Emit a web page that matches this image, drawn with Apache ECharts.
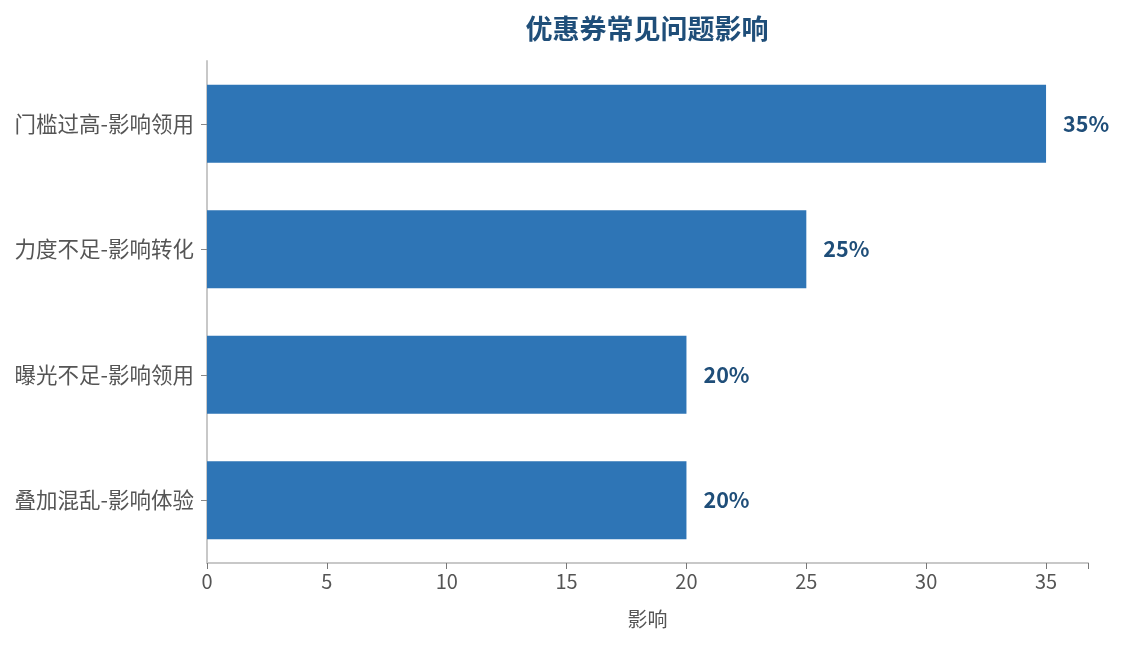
<!DOCTYPE html>
<html><head><meta charset="utf-8">
<script src="https://cdn.jsdelivr.net/npm/echarts@6/dist/echarts.min.js"></script>
<style>html,body{margin:0;padding:0;background:#fff}#c{width:1125px;height:645px}</style>
</head><body><div id="c"></div>
<script>
const categories = ['门槛过高-影响领用','力度不足-影响转化','曝光不足-影响领用','叠加混乱-影响体验'];
const values = [35, 25, 20, 20];
const axisMax = 36.75;
const xAxisName = '影响';
const titleText = '优惠券常见问题影响';

const chart = echarts.init(document.getElementById('c'));
const font = '"Noto Sans CJK SC", "Noto Sans", sans-serif';
chart.setOption({
  animation: false,
  textStyle: {fontFamily: font},
  title: {text: titleText, left: 642, top: 10, textAlign: 'center',
    textStyle: {fontSize: 27, fontWeight: 'bold', color: '#1f4e79', fontFamily: font}},
  grid: {left: 207, right: 37, top: 61, bottom: 82},
  xAxis: {type: 'value', min: 0, max: axisMax, interval: 5,
    name: xAxisName, nameLocation: 'middle', nameGap: 46,
    nameTextStyle: {fontSize: 20, color: '#555'},
    axisLine: {show: true, lineStyle: {color: '#c8c8c8', width: 2}},
    axisTick: {show: true, length: 6, lineStyle: {color: '#777'}},
    axisLabel: {fontSize: 20, color: '#555', margin: 8,
      formatter: v => (v % 5 === 0 ? String(v) : '')},
    splitLine: {show: false}},
  yAxis: {type: 'category', data: categories, inverse: true,
    axisLine: {show: true, lineStyle: {color: '#c8c8c8', width: 2}},
    axisTick: {show: true, alignWithLabel: true, length: 6, lineStyle: {color: '#888'}},
    axisLabel: {fontSize: 21.5, color: '#555', margin: 13}},
  series: [{type: 'bar', data: values, barWidth: '62%',
    itemStyle: {color: '#2e75b6'},
    label: {show: true, position: 'right', distance: 17, formatter: '{c}%',
      fontSize: 21.5, fontWeight: 'bold', color: '#1f4e79'}}]
});
</script></body></html>
